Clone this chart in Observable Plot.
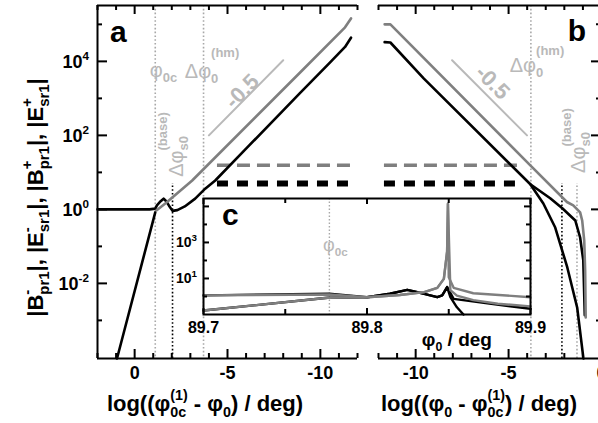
<!DOCTYPE html>
<html>
<head>
<meta charset="utf-8">
<script src="https://cdn.jsdelivr.net/npm/d3@7"></script>
<script src="https://cdn.jsdelivr.net/npm/@observablehq/plot@0.6"></script>
<style>
html, body { margin:0; padding:0; background:#fff; }
#chart { position:relative; width:598px; height:423px; overflow:hidden; background:#fff; }
#chart svg { position:absolute; left:0; top:0; background:transparent !important; max-width:none !important; }
</style>
</head>
<body>
<div id="chart"></div>
<script>
const FONT = '"Liberation Sans", Arial, Helvetica, sans-serif';
const W = 598, H = 423;
const BLACK = "#000000", GRAY = "#7f7f7f", LIGHT = "#b9b9b9", DOTGRAY = "#a8a8a8";

// ---------- Panel a : x = log10((φ0c(1) − φ0)/deg), y = log10 |amplitude|
const aBlackX = [2.0, 1.0, 0.0, -0.8, -1.11, -1.2, -1.4, -1.56, -1.7, -1.85, -2.04, -2.3, -2.7, -3.26, -3.8, -4.34, -6.0, -8.9, -10.5, -11.33, -11.65];
const aBlackY = [0.0, 0.0, 0.0, 0.0, 0.02, 0.11, 0.22, 0.29, 0.22, 0.1, -0.04, -0.02, 0.08, 0.29, 0.56, 0.78, 1.64, 3.14, 3.96, 4.39, 4.64];
const aGrayX = [-1.17, -1.65, -3.1, -8.91, -11.33, -11.65];
const aGrayY = [-0.03, 0.16, 0.78, 3.70, 4.92, 5.16];
const aSteepX = [0.95, -1.11];
const aSteepY = [-4.03, -0.08];
const aDashX = [-4.46, -11.65];

// ---------- Panel b : x = log10((φ0 − φ0c(1))/deg)
const bGrayX = [-11.67, -11.36, -3.83, -1.86, -1.52, -1.15, -1.04, -0.93, -0.88, -0.85];
const bGrayY = [5.0, 5.0, 1.19, 0.20, 0.11, -0.08, -0.30, -0.84, -1.65, -2.92];
const bBlack1X = [-11.67, -11.36, -9.57, -3.83, -2.76, -2.11, -1.41, -1.15, -0.98, -0.90];
const bBlack1Y = [4.52, 4.51, 3.54, 0.68, 0.30, 0.03, -0.30, -0.76, -1.38, -2.86];
const bBlack2X = [-3.83, -3.13, -2.49, -1.84, -1.31, -0.98, -0.97];
const bBlack2Y = [0.68, 0.16, -0.49, -1.57, -2.65, -4.0, -4.03];
const bDashX = [-11.68, -4.48];

// dashed levels (log10) and vertical markers
const dashGrayLevel = 1.19, dashBlackLevel = 0.70;
const markTop = 0.70;
const aMarkGrayFull = [-1.11, -3.71], aMarkGrayLow = [], aMarkBlack = [-2.04];
const bMarkGrayFull = [-3.8], bMarkGrayLow = [-1.32], bMarkBlack = [-2.13];

// slope guides (-0.5)
const aSlopeX = [-4.0, -8.0], aSlopeY = [2.0, 4.03];
const bSlopeX = [-8.04, -4.01], bSlopeY = [4.03, 2.0];

// ticks
const aXTicks = [2, 1, 0, -1, -2, -3, -4, -5, -6, -7, -8, -9, -10, -11, -12];
const bXTicks = [-12, -11, -10, -9, -8, -7, -6, -5, -4, -3, -2, -1, 0];
const aXLabels = [0, -5, -10];
const bXLabels = [-10, -5, 0];
const yMajorExp = [-2, 0, 2, 4];
const yMinorExp = [-3, -1, 1, 3, 5];

// ---------- Inset c : x = φ0 / deg, y = log10 |amplitude|
const cGrayUpperX = [89.7, 89.777, 89.8, 89.82, 89.835, 89.843, 89.847, 89.849, 89.8495, 89.850, 89.853, 89.865, 89.9];
const cGrayUpperY = [0.06, 0.11, -0.04, 0.08, 0.24, 0.48, 0.98, 2.5, 5.15, 1.07, 0.48, 0.18, -0.04];
const cGrayLowerX = [89.7, 89.776, 89.8, 89.82, 89.835, 89.843, 89.847, 89.849, 89.8495, 89.851, 89.855, 89.865, 89.88, 89.9];
const cGrayLowerY = [-0.78, -0.07, -0.04, 0.08, 0.24, 0.48, 0.98, 2.5, 5.15, 0.35, 0.05, -0.2, -0.4, -0.55];
const cBlackUpperX = [89.7, 89.777, 89.8, 89.814, 89.8246, 89.835, 89.843, 89.846, 89.849, 89.851, 89.855, 89.859];
const cBlackUpperY = [0.06, 0.16, -0.04, 0.15, 0.37, 0.15, -0.04, 0.06, 0.52, -0.04, -0.6, -1.0];
const cBlackLowerX = [89.7, 89.776, 89.8, 89.814, 89.8246, 89.835, 89.843, 89.846, 89.849, 89.853, 89.876, 89.9];
const cBlackLowerY = [-0.78, -0.07, -0.04, 0.15, 0.37, 0.15, -0.04, 0.06, 0.52, -0.13, -0.41, -0.68];
const cCritical = [89.777];
const cXTicks = [89.7, 89.75, 89.8, 89.85, 89.9];
const cXMajor = [89.7, 89.8, 89.9];
const cXLabels = ["89.7", "89.8", "89.9"];
const cYMajorExp = [1, 3, 5];
const cYMinorExp = [0, 2, 4];
const cYLabelExp = [1, 3];

// ---------- helpers
const yDomain = [10 ** -4.03, 10 ** 5.51];
const pts = (xs, ys) => xs.map((x, i) => ({x, y: 10 ** ys[i]}));
const dot = "1.6,2.2";

function buildPanel(p) {
  const FH = H - p.mt - p.mb;
  const FW = p.width - p.ml - p.mr;
  const marks = [];
  marks.push(Plot.ruleX(p.grayFull, {x: d => d, stroke: DOTGRAY, strokeWidth: 1.6, strokeDasharray: dot}));
  marks.push(Plot.ruleX(p.grayLow.map(x => ({x, y1: yDomain[0], y2: 10 ** markTop})), {x: "x", y1: "y1", y2: "y2", stroke: DOTGRAY, strokeWidth: 1.6, strokeDasharray: dot}));
  marks.push(Plot.ruleX(p.black.map(x => ({x, y1: yDomain[0], y2: 10 ** markTop})), {x: "x", y1: "y1", y2: "y2", stroke: BLACK, strokeWidth: 1.6, strokeDasharray: dot}));
  marks.push(Plot.line(pts(p.slopeX, p.slopeY), {x: "x", y: "y", stroke: LIGHT, strokeWidth: 2}));
  marks.push(Plot.ruleY([{y: 10 ** dashGrayLevel, x1: p.dashX[0], x2: p.dashX[1]}], {y: "y", x1: "x1", x2: "x2", stroke: GRAY, strokeWidth: 3.5, strokeDasharray: "13,7"}));
  marks.push(Plot.ruleY([{y: 10 ** dashBlackLevel, x1: p.dashX[0], x2: p.dashX[1]}], {y: "y", x1: "x1", x2: "x2", stroke: BLACK, strokeWidth: 6, strokeDasharray: "11,9"}));
  for (const c of p.curves) marks.push(Plot.line(pts(c.x, c.y), {x: "x", y: "y", stroke: c.color, strokeWidth: 2.6}));
  for (const xv of p.frameX) marks.push(Plot.ruleX([xv], {x: d => d, stroke: BLACK, strokeWidth: 2}));
  marks.push(Plot.ruleY(yDomain, {y: d => d, stroke: BLACK, strokeWidth: 2}));
  const minorX = p.xTicks.filter(v => !p.xLabels.includes(v));
  for (const [vals, len] of [[minorX, 5], [p.xLabels, 9]]) {
    marks.push(Plot.tickX(vals, {x: d => d, insetTop: FH - len, stroke: BLACK, strokeWidth: 2}));
    marks.push(Plot.tickX(vals, {x: d => d, insetBottom: FH - len, stroke: BLACK, strokeWidth: 2}));
  }
  for (const [exps, len] of [[yMinorExp, 5], [yMajorExp, 10]]) {
    const vals = exps.map(e => 10 ** e);
    const o = {y: d => d, stroke: BLACK, strokeWidth: 2};
    if (p.side === "left") o.insetRight = FW - len; else o.insetLeft = FW - len;
    marks.push(Plot.tickY(vals, o));
  }
  marks.push(Plot.text(p.xLabels, {x: d => d, text: d => String(d), frameAnchor: "bottom", lineAnchor: "top", dy: 8, fontSize: 18, fontWeight: "bold", fontFamily: FONT, fill: BLACK}));
  return Plot.plot({
    width: p.width, height: H,
    marginLeft: p.ml, marginRight: p.mr, marginTop: p.mt, marginBottom: p.mb,
    x: {domain: p.xDomain, axis: null},
    y: {type: "log", domain: yDomain, axis: null},
    style: {background: "transparent"},
    marks
  });
}

const svgA = buildPanel({
  width: W, ml: 97, mr: W - 357, mt: 5, mb: H - 358, xDomain: [2, -12], side: "left",
  grayFull: aMarkGrayFull, grayLow: aMarkGrayLow, black: aMarkBlack,
  slopeX: aSlopeX, slopeY: aSlopeY, dashX: aDashX,
  curves: [
    {x: aSteepX, y: aSteepY, color: BLACK},
    {x: aBlackX, y: aBlackY, color: BLACK},
    {x: aGrayX, y: aGrayY, color: GRAY}
  ],
  frameX: [2], xTicks: aXTicks, xLabels: aXLabels
});

const svgB = buildPanel({
  width: 604, ml: 378, mr: 3, mt: 5, mb: H - 358, xDomain: [-12, 0], side: "right",
  grayFull: bMarkGrayFull, grayLow: bMarkGrayLow, black: bMarkBlack,
  slopeX: bSlopeX, slopeY: bSlopeY, dashX: bDashX,
  curves: [
    {x: bBlack2X, y: bBlack2Y, color: BLACK},
    {x: bBlack1X, y: bBlack1Y, color: BLACK},
    {x: bGrayX, y: bGrayY, color: GRAY}
  ],
  frameX: [0], xTicks: bXTicks, xLabels: bXLabels
});

// inset
const cML = 203, cMR = W - 530, cMT = 198, cMB = H - 314;
const cFW = W - cML - cMR, cFH = H - cMT - cMB;
const cMarks = [
  Plot.frame({fill: "white", stroke: "white"}),
  Plot.ruleX(cCritical, {x: d => d, stroke: DOTGRAY, strokeWidth: 1.4, strokeDasharray: "1.5,2"}),
  Plot.line(pts(cBlackLowerX, cBlackLowerY), {x: "x", y: "y", stroke: BLACK, strokeWidth: 2.4}),
  Plot.line(pts(cBlackUpperX, cBlackUpperY), {x: "x", y: "y", stroke: BLACK, strokeWidth: 2.4}),
  Plot.line(pts(cGrayLowerX, cGrayLowerY), {x: "x", y: "y", stroke: GRAY, strokeWidth: 2.4}),
  Plot.line(pts(cGrayUpperX, cGrayUpperY), {x: "x", y: "y", stroke: GRAY, strokeWidth: 2.4}),
  Plot.frame({stroke: BLACK, strokeWidth: 2})
];
for (const [vals, len] of [[cXTicks.filter(v => !cXMajor.includes(v)), 5], [cXMajor, 6]]) {
  cMarks.push(Plot.tickX(vals, {x: d => d, insetTop: cFH - len, stroke: BLACK, strokeWidth: 2}));
  cMarks.push(Plot.tickX(vals, {x: d => d, insetBottom: cFH - len, stroke: BLACK, strokeWidth: 2}));
}
for (const [exps, len] of [[cYMinorExp, 4], [cYMajorExp, 6]]) {
  const vals = exps.map(e => 10 ** e);
  cMarks.push(Plot.tickY(vals, {y: d => d, insetRight: cFW - len, stroke: BLACK, strokeWidth: 2}));
  cMarks.push(Plot.tickY(vals, {y: d => d, insetLeft: cFW - len, stroke: BLACK, strokeWidth: 2}));
}
cMarks.push(Plot.text(cXMajor, {x: d => d, text: (d, i) => cXLabels[i], frameAnchor: "bottom", lineAnchor: "top", dy: 7, fontSize: 16, fontWeight: "bold", fontFamily: FONT, fill: BLACK}));
const cYDomain = [10 ** -1, 10 ** 5.44];
const svgC = Plot.plot({
  width: W, height: H, marginLeft: cML, marginRight: cMR, marginTop: cMT, marginBottom: cMB,
  x: {domain: [89.7, 89.9], axis: null},
  y: {type: "log", domain: cYDomain, axis: null},
  style: {background: "transparent"},
  marks: cMarks
});

const chart = document.getElementById("chart");
chart.append(svgA, svgB, svgC);

function sc(svg, name, fb) {
  try { const s = svg.scale(name); if (s && typeof s.apply === "function") return v => s.apply(v); } catch (e) {}
  return fb;
}
const xa = sc(svgA, "x", d3.scaleLinear([2, -12], [97, 357]));
const ya = sc(svgA, "y", d3.scaleLog(yDomain, [358, 5]));
const xb = sc(svgB, "x", d3.scaleLinear([-12, 0], [378, 601]));
const yb = sc(svgB, "y", d3.scaleLog(yDomain, [358, 5]));
const xc = sc(svgC, "x", d3.scaleLinear([89.7, 89.9], [203, 530]));
const yc = sc(svgC, "y", d3.scaleLog(cYDomain, [314, 198]));

// overlay for rich text
const ov = d3.create("svg").attr("width", W).attr("height", H).attr("viewBox", `0 0 ${W} ${H}`);
chart.append(ov.node());

function rich(o) {
  const size = o.size || 20;
  const t = ov.append("text")
    .attr("fill", o.fill || BLACK)
    .attr("font-family", FONT)
    .attr("font-size", size)
    .attr("font-weight", o.weight || "bold")
    .style("white-space", "pre");
  let cx = 0, gs = 0, ge = 0;
  const small = o.small || 0.65;
  for (const p of o.parts) {
    const fs = size * (p.sub || p.sup ? small : 1);
    const dy = p.sub ? (o.subDy != null ? o.subDy : size * 0.28) : p.sup ? (o.supDy != null ? o.supDy : -size * 0.45) : 0;
    const start = p.stack ? gs : cx;
    const ts = t.append("tspan").attr("x", start).attr("y", dy).attr("font-size", fs).text(p.t);
    if (p.w) ts.attr("font-weight", p.w);
    const len = ts.node().getComputedTextLength();
    if (p.stack) ge = Math.max(ge, start + len); else { gs = start; ge = start + len; }
    cx = ge;
  }
  const off = o.anchor === "middle" ? cx / 2 : o.anchor === "end" ? cx : 0;
  const vy = o.vcenter ? size * 0.35 : 0;
  t.attr("transform", `translate(${o.x},${o.y}) rotate(${o.rotate || 0}) translate(${-off},${vy})`);
  return t;
}

// y tick labels (panel a)
for (const e of yMajorExp) {
  rich({x: 89, y: ya(10 ** e) + 7, anchor: "end", size: 18, small: 0.65, supDy: -8, parts: [{t: "10"}, {t: String(e), sup: true}]});
}
// inset y tick labels
for (const e of cYLabelExp) {
  rich({x: 197, y: yc(10 ** e) + 5.5, anchor: "end", size: 14, small: 0.7, supDy: -6, parts: [{t: "10"}, {t: String(e), sup: true}]});
}

// axis titles
rich({x: 205, y: 411, anchor: "middle", size: 22, small: 0.65, subDy: 6, supDy: -11,
  parts: [{t: "log((φ"}, {t: "0c", sub: true}, {t: "(1)", sup: true, stack: true}, {t: " - φ"}, {t: "0", sub: true}, {t: ") / deg)"}]});
rich({x: 479, y: 411, anchor: "middle", size: 22, small: 0.65, subDy: 6, supDy: -11,
  parts: [{t: "log((φ"}, {t: "0", sub: true}, {t: " - φ"}, {t: "0c", sub: true}, {t: "(1)", sup: true, stack: true}, {t: ") / deg)"}]});
rich({x: 43, y: 197.5, rotate: -90, anchor: "middle", size: 22, small: 0.68, subDy: 6, supDy: -11,
  parts: [
    {t: "|B"}, {t: "pr1", sub: true}, {t: "-", sup: true, stack: true}, {t: "|, |E"}, {t: "sr1", sub: true}, {t: "-", sup: true, stack: true},
    {t: "|, |B"}, {t: "pr1", sub: true}, {t: "+", sup: true, stack: true}, {t: "|, |E"}, {t: "sr1", sub: true}, {t: "+", sup: true, stack: true}, {t: "|"}
  ]});

// panel letters
rich({x: xa(1.306), y: ya(10 ** 4.514), size: 30, parts: [{t: "a"}]});
rich({x: xb(-1.79), y: yb(10 ** 4.54), size: 30, parts: [{t: "b"}]});
rich({x: xc(89.7116), y: yc(10 ** 3.944), size: 30, parts: [{t: "c"}]});

// panel a annotations
rich({x: xa(-0.844), y: ya(10 ** 3.568), size: 20, weight: "normal", fill: LIGHT, small: 0.65, subDy: 5,
  parts: [{t: "φ"}, {t: "0c", sub: true, w: "bold"}]});
rich({x: xa(-2.726), y: ya(10 ** 3.54), size: 20, weight: "normal", fill: LIGHT, small: 0.65, subDy: 5, supDy: -21,
  parts: [{t: "Δφ"}, {t: "0", sub: true, w: "bold"}, {t: "(hm)", sup: true, stack: true, w: "bold"}]});
rich({x: xa(-5.79), y: ya(10 ** 3.19), rotate: -45, anchor: "middle", vcenter: true, size: 22, fill: LIGHT, parts: [{t: "-0.5"}]});
rich({x: xa(-2.618), y: ya(10 ** 0.865), rotate: -90, size: 20, weight: "normal", fill: LIGHT, small: 0.65, subDy: 5, supDy: -16,
  parts: [{t: "Δφ"}, {t: "s0", sub: true, w: "bold"}, {t: "(base)", sup: true, stack: true, w: "bold"}]});

// panel b annotations
rich({x: xb(-4.91), y: yb(10 ** 3.70), size: 20, weight: "normal", fill: LIGHT, small: 0.65, subDy: 5, supDy: -17,
  parts: [{t: "Δφ"}, {t: "0", sub: true, w: "bold"}, {t: "(hm)", sup: true, stack: true, w: "bold"}]});
rich({x: xb(-5.82), y: yb(10 ** 3.43), rotate: 45, anchor: "middle", vcenter: true, size: 22, fill: LIGHT, parts: [{t: "-0.5"}]});
rich({x: xb(-0.876), y: yb(10 ** 0.973), rotate: -90, size: 20, weight: "normal", fill: LIGHT, small: 0.65, subDy: 5, supDy: -14,
  parts: [{t: "Δφ"}, {t: "s0", sub: true, w: "bold"}, {t: "(base)", sup: true, stack: true, w: "bold"}]});

// inset annotations
rich({x: xc(89.7734), y: yc(10 ** 2.5), size: 18, weight: "normal", fill: LIGHT, small: 0.65, subDy: 5,
  parts: [{t: "φ"}, {t: "0c", sub: true, w: "bold"}]});
rich({x: xc(89.8553), y: yc(10 ** -2.78), anchor: "middle", size: 19, small: 0.65, subDy: 5,
  parts: [{t: "φ"}, {t: "0", sub: true}, {t: " / deg"}]});
</script>
</body>
</html>
